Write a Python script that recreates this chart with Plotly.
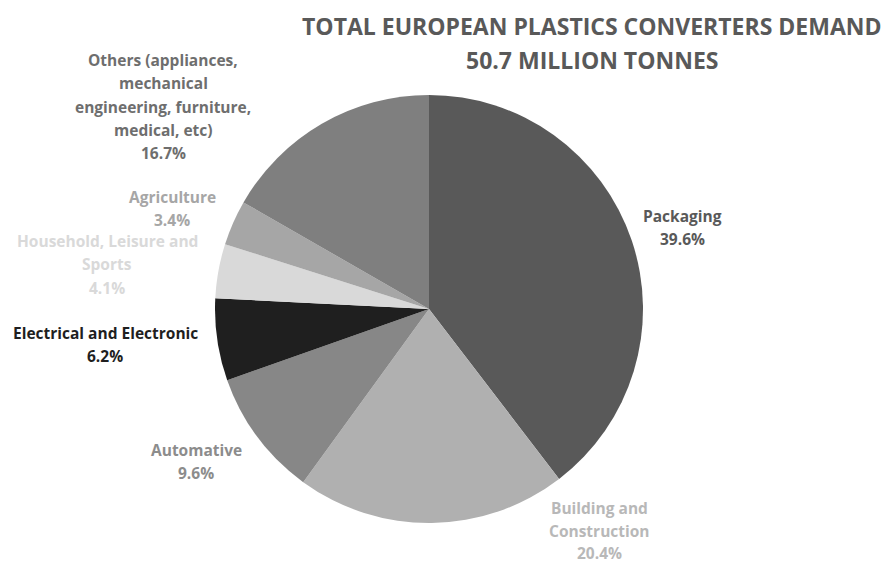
import plotly.graph_objects as go

W, H = 888, 564

categories = ["Packaging", "Building and Construction", "Automative", "Electrical and Electronic",
              "Household, Leisure and Sports", "Agriculture",
              "Others (appliances, mechanical engineering, furniture, medical, etc)"]
values = [39.6, 20.4, 9.6, 6.2, 4.1, 3.4, 16.7]
slice_colors = ["#595959", "#b0b0b0", "#878787", "#1f1f1f", "#d9d9d9", "#a6a6a6", "#7f7f7f"]
label_colors = ["#595959", "#b8b8b8", "#8c8c8c", "#1f1f1f", "#d9d9d9", "#a6a6a6", "#6e6e6e"]
# label line breaks as in the reference
label_lines = [
    ["Packaging"],
    ["Building and", "Construction"],
    ["Automative"],
    ["Electrical and Electronic"],
    ["Household, Leisure and", "Sports"],
    ["Agriculture"],
    ["Others (appliances,", "mechanical", "engineering, furniture,", "medical, etc)"],
]
# label anchor (center x, first line y, line gap) in pixels
label_pos = [(682, 216, 23.3), (599, 508, 22.5), (196, 450, 23.3), (105, 333, 23.3),
             (107, 241, 23.3), (172, 197, 23.3), (163, 60, 23.3)]

title_lines = ["TOTAL EUROPEAN PLASTICS CONVERTERS DEMAND", "50.7 MILLION TONNES"]

FONT = "Open Sans"

fig = go.Figure(go.Pie(
    labels=categories, values=values, sort=False, direction="clockwise", rotation=0,
    marker=dict(colors=slice_colors, line=dict(width=0)),
    textinfo="none", hoverinfo="label+percent", showlegend=False,
    domain=dict(x=[215 / W, 643 / W], y=[1 - 523 / H, 1 - 95 / H]),
))

ann = []
for lines, v, col, (cx, cy, gap) in zip(label_lines, values, label_colors, label_pos):
    allines = lines + [f"{v:.1f}%"]
    for i, t in enumerate(allines):
        ann.append(dict(text=f"<b>{t}</b>", x=cx / W, y=1 - (cy + i * gap) / H,
                        xref="paper", yref="paper", xanchor="center", yanchor="middle",
                        showarrow=False, font=dict(family=FONT, size=15.5, color=col)))
for i, t in enumerate(title_lines):
    ann.append(dict(text=f"<b>{t}</b>", x=592 / W, y=1 - (26 + i * 34) / H,
                    xref="paper", yref="paper", xanchor="center", yanchor="middle",
                    showarrow=False, font=dict(family=FONT, size=23, color="#595959")))

fig.update_layout(width=W, height=H, margin=dict(l=0, r=0, t=0, b=0),
                  paper_bgcolor="white", plot_bgcolor="white", annotations=ann)
fig.write_html("out.html")
